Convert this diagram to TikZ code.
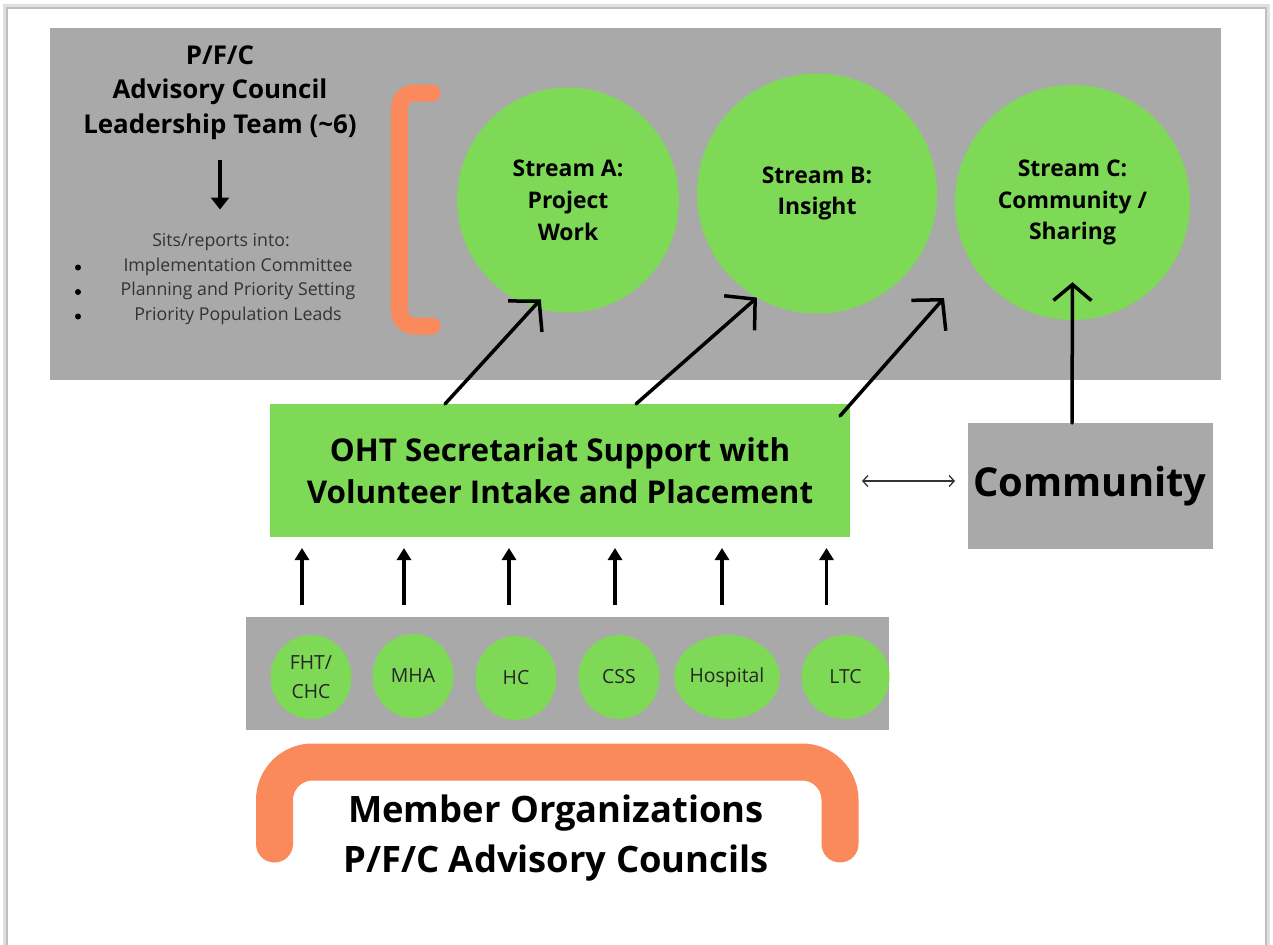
\documentclass[tikz,border=0pt]{standalone}
\usepackage{fontspec}
\setmainfont{Open Sans}
\usetikzlibrary{shapes.geometric,arrows.meta}

\definecolor{panel}{RGB}{169,169,169}
\definecolor{leaf}{RGB}{126,217,87}
\definecolor{coral}{RGB}{250,138,92}

\begin{document}
\begin{tikzpicture}[x=1bp,y=-1bp,
	box/.style={rectangle,inner sep=0,outer sep=0},
	stream/.style={ellipse,fill=leaf,inner sep=0,align=center,font=\fontsize{23}{32}\selectfont\bfseries},
	org/.style={ellipse,fill=leaf,inner sep=0,minimum width=81bp,minimum height=84bp,align=center,text=black!85,font=\fontsize{19.5}{29}\selectfont},
	item/.style={inner sep=0,text=black!80,font=\fontsize{17.8}{20}\selectfont},
	hand/.style={line width=3.5bp,line cap=round,-{Straight Barb[length=21bp,width=46bp]}},
	uparr/.style={line width=3.5bp,-{Triangle[length=12bp,width=14bp]}},
	dbl/.style={line width=1.3bp,draw=black!80,{Straight Barb[length=5bp,width=11bp]}-{Straight Barb[length=5bp,width=11bp]}}]

	% page
	\useasboundingbox (0,0) rectangle (1273,945);
	\fill[white] (0,0) rectangle (1273,945);
	\draw[black!12,line width=4bp] (5,945) -- (5,6) -- (1268,6) -- (1268,945);
	\draw[black!25,line width=1.2bp] (7,945) -- (7,8) -- (1266,8) -- (1266,945);

	% grey panels
	\node[box,fill=panel,minimum width=1171bp,minimum height=352bp] (P) at (635.5,204) {};
	\node[box,fill=panel,minimum width=643bp,minimum height=113bp] (Strip) at (567.5,673.5) {};
	\node[box,fill=panel,minimum width=245bp,minimum height=126bp,font=\fontsize{40}{44}\selectfont\bfseries] (Com) at (1090,486) {Community};

	% leadership team
	\node[align=center,inner sep=0,font=\fontsize{26}{34.5}\selectfont\bfseries] (T) at (220,92.5)
		{P/F/C\\Advisory Council\\Leadership Team (\textasciitilde6)};
	\draw[line width=3.5bp,-{Triangle[length=12bp,width=18bp]}] (T) ++(0,67) -- ++(0,50);

	\node[item] (S) at (221,242) {Sits/reports into:};
	\foreach \t [count=\i] in {Implementation Committee,Planning and Priority Setting,Priority Population Leads}{
		\node[item] (S\i) at (238,242+24.5*\i) {\t};
		\fill[black] (78,243+24.5*\i) circle (3);
	}

	% bracket
	\draw[coral,line width=17bp,line cap=round,rounded corners=15bp] (432,93) -- (399.5,93) -- (399.5,326) -- (432,326);

	% streams
	\node[stream,minimum width=222bp,minimum height=225bp] (SA) at (568,200) {Stream A:\\Project\\Work};
	\node[stream,minimum width=240bp,minimum height=240bp] (SB) at (817,193.5) {Stream B:\\Insight};
	\node[stream,minimum width=235bp,minimum height=235bp] (SC) at (1072.5,202.5) {Stream C:\\Community /\\Sharing};

	% secretariat
	\node[box,fill=leaf,minimum width=580bp,minimum height=133bp,align=center,font=\fontsize{31.5}{42}\selectfont\bfseries] (OHT) at (560,470.5)
		{OHT Secretariat Support with\\Volunteer Intake and Placement};

	% member organizations
	\node[org] (fht) at (311,677) {FHT/\\CHC};
	\node[org] (mha) at (413,676) {MHA};
	\node[org] (hc) at (516,678) {HC};
	\node[org] (css) at (619,677) {CSS};
	\node[org] (hosp) at (727,677) {Hospital};
	\node[org,minimum width=88bp] (ltc) at (845.5,677) {LTC};

	\draw[coral,line width=37bp,line cap=round,rounded corners=38bp] (274.5,844) -- (274.5,762) -- (840,762) -- (840,844);
	\node[align=center,inner sep=0,font=\fontsize{36.5}{50}\selectfont\bfseries] (M) at (556,838)
		{Member Organizations\\P/F/C Advisory Councils};

	% arrows
	\coordinate (tC) at (944,298);
	\draw[hand] (OHT.north west) ++(175,0) -- ([yshift=10bp]SA.256);
	\draw[hand] (OHT.north west) ++(366,0) -- (SB.240);
	\draw[hand] (OHT.north east) ++(-10,12) -- (tC);
	\draw[hand,-{Straight Barb[length=16bp,width=38bp]}] (Com.north) ++(-18,0) -- ([yshift=38bp]SC.south);

	\draw[dbl] (OHT.east |- Com.west) ++(12,-5) -- ++(93,0);

	\foreach \n/\dx in {fht/-9,mha/-9,hc/-7,css/-4,hosp/-5,ltc/-19}
		\draw[uparr] (\n |- Strip.north) ++(\dx,-12) -- ++(0,-57);

\end{tikzpicture}
\end{document}
